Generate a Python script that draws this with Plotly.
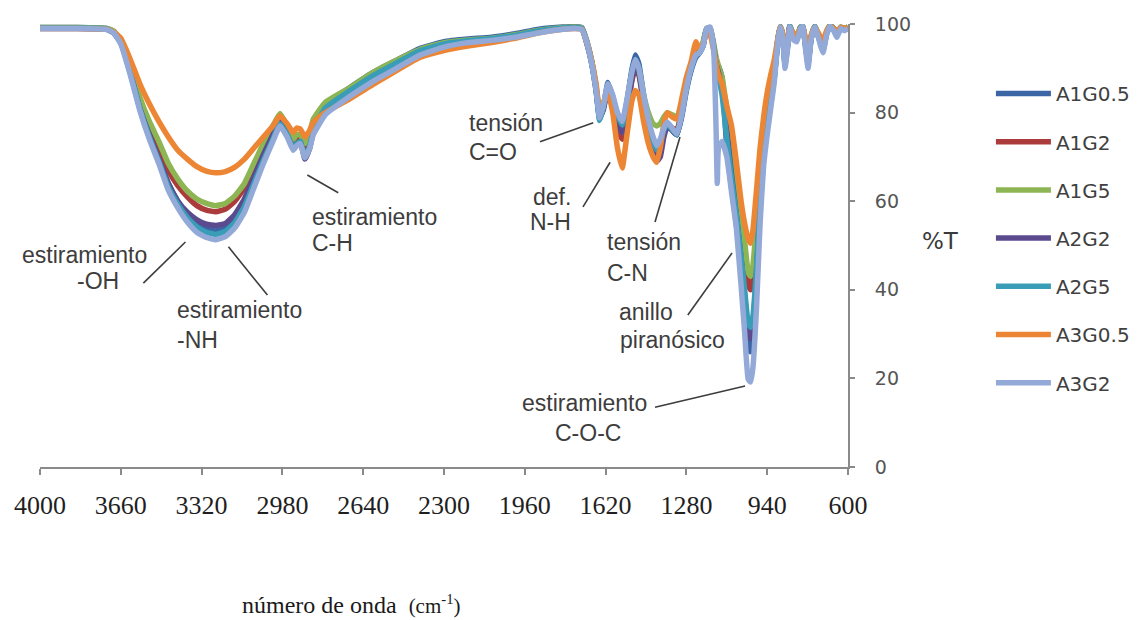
import plotly.graph_objects as go

# Wavenumber grid (cm-1) shared by all spectra
WN = [4000, 3850, 3720, 3690, 3660, 3620, 3580, 3540, 3500, 3460,
      3420, 3380, 3340, 3300, 3260, 3220, 3180, 3140, 3100, 3060,
      3020, 2990, 2960, 2935, 2920, 2905, 2885, 2865, 2850,
      2800, 2700, 2600, 2500, 2400, 2300, 2200, 2100, 2000, 1900, 1800, 1750, 1720,
      1700, 1680, 1660, 1645, 1630, 1610, 1590, 1570, 1550, 1530,
      1510, 1495, 1480, 1460, 1440, 1420, 1405, 1390, 1375, 1360,
      1340, 1320, 1300, 1280, 1260, 1240, 1225, 1210, 1195,
      1180, 1165, 1155, 1150, 1145, 1130, 1110, 1090, 1070, 1050,
      1035, 1020, 1010, 1000, 985, 970, 955, 940, 925, 910, 895, 885,
      875, 865, 855, 845, 830, 815, 800, 790, 780, 768,
      755, 740, 725, 715, 705, 690, 676, 660, 647, 630, 615, 600]

# %T for each sample
A1G0_5 = [99.2, 99.2, 99.0, 98.3, 96.0, 89.5, 81.5, 75.0, 69.5, 64.0,
          60.0, 57.0, 55.0, 53.8, 53.3, 54.0, 56.0, 59.5, 64.5, 69.5,
          74.5, 78.0, 75.5, 72.5, 73.5, 74.0, 70.5, 73.0, 76.5,
          81.8, 85.5, 89.0, 91.8, 94.5, 96.0, 96.6, 97.0, 97.8, 98.8, 99.3, 99.4, 99.2,
          96.3, 92.0, 85.5, 78.5, 81.0, 86.8, 83.5, 79.0, 77.0, 82.5,
          89.5, 93.0, 91.0, 84.0, 77.5, 73.0, 71.0, 72.5, 75.5, 77.0,
          76.0, 75.0, 79.0, 85.0, 89.5, 92.5, 93.5, 95.5, 99.0,
          99.0, 95.0, 92.0, 91.0, 90.5, 88.0, 72.0, 63.0, 55.0, 45.0,
          36.0, 27.0, 26.0, 29.0, 42.0, 58.0, 70.0, 76.5, 82.0, 88.0, 96.5, 99.5,
          97.5, 91.0, 95.0, 99.6, 97.5, 97.0, 99.3, 99.6, 96.0, 91.0,
          97.0, 99.5, 97.5, 96.0, 94.5, 98.0, 99.7, 99.0, 97.5, 99.3, 99.0, 99.3]

A1G2 = [99.1, 99.1, 98.9, 98.2, 96.0, 90.0, 82.5, 77.0, 72.0, 67.0,
        63.5, 61.0, 59.0, 58.0, 57.6, 58.2, 60.0, 63.0, 67.5, 72.0,
        76.0, 78.8, 76.0, 73.0, 74.0, 74.5, 71.5, 73.5, 76.5,
        80.8, 84.3, 87.8, 90.8, 93.6, 95.2, 96.0, 96.5, 97.3, 98.4, 99.0, 99.2, 99.0,
        96.0, 91.8, 85.5, 79.5, 81.0, 85.5, 81.5, 76.5, 74.0, 79.5,
        87.0, 90.0, 88.5, 82.0, 76.0, 72.0, 70.0, 71.5, 75.5, 77.5,
        76.5, 76.0, 80.5, 86.0, 90.5, 94.0, 94.0, 95.5, 98.8,
        99.0, 95.0, 91.5, 90.5, 89.5, 86.5, 79.0, 72.0, 64.0, 55.0,
        48.0, 41.0, 40.0, 42.5, 52.0, 63.0, 72.0, 78.5, 83.5, 89.0, 96.5, 99.3,
        97.5, 92.0, 95.0, 99.4, 97.5, 97.0, 99.2, 99.5, 96.0, 92.0,
        97.0, 99.4, 97.5, 96.0, 94.5, 98.0, 99.6, 99.0, 97.8, 99.2, 98.8, 99.2]

A1G5 = [99.2, 99.2, 99.0, 98.4, 96.3, 90.5, 83.5, 78.0, 73.5, 68.5,
        65.0, 62.3, 60.5, 59.5, 59.0, 59.5, 61.2, 64.0, 68.5, 73.0,
        77.0, 79.8, 77.0, 74.0, 75.0, 75.0, 73.0, 75.5, 78.5,
        82.3, 85.5, 89.0, 91.8, 94.3, 95.8, 96.4, 96.8, 97.6, 98.6, 99.2, 99.3, 99.1,
        96.2, 92.0, 86.0, 80.0, 81.5, 86.0, 82.5, 78.0, 75.5, 81.0,
        88.0, 91.0, 89.5, 84.0, 80.0, 77.5, 77.0, 77.5, 79.0, 80.0,
        79.5, 79.0, 82.0, 87.0, 91.0, 94.5, 94.5, 96.0, 99.0,
        99.2, 95.5, 92.5, 91.5, 90.5, 88.0, 81.0, 74.0, 66.0, 57.5,
        51.0, 44.0, 43.0, 45.5, 55.0, 65.0, 73.5, 79.5, 84.0, 89.5, 96.8, 99.4,
        97.8, 92.5, 95.5, 99.5, 97.8, 97.3, 99.3, 99.6, 96.5, 92.5,
        97.3, 99.5, 97.8, 96.5, 95.0, 98.3, 99.7, 99.0, 98.0, 99.3, 99.0, 99.3]

A2G2 = [99.0, 99.0, 98.8, 98.0, 95.7, 89.0, 81.0, 75.0, 69.5, 64.0,
        60.0, 57.5, 55.8, 54.8, 54.5, 55.0, 57.0, 60.5, 65.5, 70.5,
        75.0, 78.0, 75.0, 72.0, 73.0, 73.5, 69.5, 72.0, 75.5,
        80.0, 83.8, 87.3, 90.3, 93.2, 94.9, 95.8, 96.3, 97.0, 98.2, 98.9, 99.1, 98.9,
        95.8, 91.5, 85.0, 79.0, 80.5, 85.5, 82.0, 77.5, 75.5, 80.5,
        87.5, 90.5, 89.0, 82.5, 75.5, 71.0, 69.0, 70.0, 74.5, 77.0,
        76.0, 75.0, 79.5, 85.5, 90.0, 93.5, 93.5, 95.0, 98.7,
        98.8, 94.5, 91.0, 90.0, 89.0, 85.5, 76.0, 66.0, 57.0, 47.0,
        39.0, 30.0, 29.0, 32.0, 44.0, 59.0, 70.0, 77.0, 82.5, 88.5, 96.3, 99.2,
        97.3, 91.5, 94.8, 99.3, 97.2, 96.8, 99.1, 99.4, 95.8, 91.5,
        96.8, 99.3, 97.3, 95.8, 94.3, 97.8, 99.5, 98.8, 97.6, 99.1, 98.7, 99.1]

A2G5 = [99.1, 99.1, 98.9, 98.1, 95.8, 89.0, 81.0, 74.5, 69.0, 63.2,
        59.3, 56.3, 54.2, 53.0, 52.5, 53.2, 55.2, 58.8, 64.0, 69.2,
        74.0, 77.5, 75.0, 72.0, 73.0, 73.5, 70.0, 72.5, 75.8,
        81.0, 84.8, 88.3, 91.2, 94.0, 95.5, 96.2, 96.7, 97.4, 98.5, 99.1, 99.2, 99.0,
        96.0, 91.5, 85.0, 78.2, 81.0, 86.2, 83.5, 79.5, 77.2, 82.5,
        89.0, 92.0, 90.0, 83.5, 77.5, 73.5, 71.5, 73.0, 76.0, 77.5,
        76.2, 75.0, 79.5, 85.5, 90.0, 93.0, 93.5, 95.0, 98.8,
        99.0, 94.5, 90.5, 89.0, 88.0, 84.0, 74.0, 65.0, 57.0, 47.5,
        40.0, 32.5, 31.5, 34.0, 45.0, 60.0, 70.5, 77.0, 82.5, 88.0, 96.3, 99.3,
        97.2, 91.0, 94.5, 99.4, 97.0, 96.5, 99.1, 99.5, 95.5, 91.0,
        96.8, 99.4, 97.2, 95.5, 94.0, 97.8, 99.6, 98.8, 97.3, 99.1, 98.7, 99.1]

A3G0_5 = [99.0, 99.0, 98.8, 98.2, 96.8, 92.0, 86.5, 82.0, 78.0, 74.5,
          71.5, 69.5, 67.8, 66.8, 66.4, 66.7, 67.7, 69.5, 72.0, 74.5,
          77.0, 79.3, 77.5, 75.5, 76.5, 76.3, 74.5, 76.0, 77.8,
          80.0, 83.0, 86.3, 89.5, 92.5, 94.0, 95.0, 95.8, 96.8, 98.0, 98.8, 99.0, 98.8,
          96.0, 92.0, 86.5, 80.5, 82.0, 84.5, 80.0, 72.0, 67.5, 75.0,
          82.5, 85.0, 84.0, 78.0, 73.0, 70.0, 68.8, 72.0, 77.5, 80.0,
          79.0, 78.5, 83.0, 88.0, 91.5, 96.0, 94.0, 95.5, 98.0,
          97.5, 94.0, 91.0, 89.5, 88.5, 86.5, 81.5, 77.0, 69.0, 60.0,
          55.0, 51.5, 50.5, 53.5, 62.5, 72.0, 79.0, 84.5, 88.5, 92.0, 96.8, 99.3,
          98.0, 93.5, 95.5, 99.0, 98.0, 97.5, 99.0, 99.3, 97.0, 94.0,
          97.5, 99.2, 98.0, 97.0, 96.0, 98.5, 99.5, 99.0, 98.5, 99.2, 99.0, 99.2]

A3G2 = [99.0, 99.0, 98.8, 98.0, 95.5, 88.5, 80.5, 74.0, 68.5, 62.5,
        58.5, 55.3, 53.0, 51.8, 51.3, 52.0, 54.0, 57.5, 63.0, 68.5,
        73.5, 77.0, 74.5, 71.5, 72.5, 73.0, 69.8, 72.0, 75.0,
        79.5, 83.5, 87.0, 90.0, 93.0, 94.8, 95.8, 96.3, 97.0, 98.0, 98.8, 99.0, 98.8,
        96.0, 91.5, 85.0, 78.8, 81.5, 86.5, 84.0, 80.0, 78.0, 83.0,
        89.0, 92.0, 90.0, 84.0, 78.5, 74.5, 72.5, 74.0, 76.5, 77.8,
        76.5, 75.2, 79.5, 85.5, 90.0, 93.0, 93.5, 95.0, 99.0,
        99.3, 94.0, 76.0, 64.0, 72.0, 73.5, 70.0, 62.0, 54.0, 41.0,
        30.5, 19.8, 19.2, 22.5, 36.0, 55.0, 68.0, 75.0, 81.0, 87.0, 96.0, 99.3,
        97.0, 90.0, 94.0, 99.3, 96.5, 96.0, 99.0, 99.5, 95.0, 90.0,
        96.5, 99.3, 97.0, 95.0, 93.5, 97.5, 99.5, 98.5, 97.0, 99.0, 98.5, 99.0]

SAMPLES = ["A1G0.5", "A1G2", "A1G5", "A2G2", "A2G5", "A3G0.5", "A3G2"]
SERIES = [A1G0_5, A1G2, A1G5, A2G2, A2G5, A3G0_5, A3G2]
COLORS = ["#3b65a5", "#ab3c3b", "#8db553", "#5c4a8f", "#3a9db7", "#ec8634", "#93aad9"]

X_TICKS = [4000, 3660, 3320, 2980, 2640, 2300, 1960, 1620, 1280, 940, 600]
Y_TICKS = [0, 20, 40, 60, 80, 100]

for s in SERIES:
    assert len(s) == len(WN), len(s)

fig = go.Figure()
for name, vals, col in zip(SAMPLES, SERIES, COLORS):
    fig.add_trace(go.Scatter(
        x=WN, y=vals, name=name, mode="lines", legendgroup=name,
        line=dict(color=col, width=5.5, shape="spline", smoothing=0.4),
    ))

# band assignments: (text lines, anchor wavenumbers, %T of each line, xanchor)
LABEL_FONT = dict(family="Liberation Sans, Arial, sans-serif", size=23, color="#3d3d3d")
labels = [
    (["estiramiento", "-OH"], [3813, 3754], [47.9, 42.0], "center"),
    (["estiramiento", "-NH"], [3430, 3430], [35.4, 28.7], "left"),
    (["estiramiento", "C-H"], [2862, 2862], [56.4, 50.6], "left"),
    (["tensión", "C=O"], [2202, 2202], [77.7, 71.1], "left"),
    (["def.", "N-H"], [1756, 1756], [60.9, 55.3], "right"),
    (["tensión", "C-N"], [1622, 1622], [50.8, 43.8], "left"),
    (["anillo", "piranósico"], [1571, 1567], [35.0, 28.7], "left"),
    (["estiramiento", "C-O-C"], [1710, 1693], [14.4, 7.7], "center"),
]
for lines, xs, ys, anchor in labels:
    for t, xv, yv in zip(lines, xs, ys):
        fig.add_annotation(x=xv, y=yv, text=t, showarrow=False, xanchor=anchor,
                           yanchor="middle", font=LABEL_FONT)

# leader lines from labels to bands
leaders = [
    (3565, 41.5, 3388, 50.8),
    (3207, 49.7, 3043, 38.8),
    (2875, 65.9, 2745, 61.9),
    (1896, 73.4, 1672, 77.7),
    (1715, 58.7, 1601, 68.8),
    (1412, 55.3, 1307, 74.5),
    (1274, 34.3, 1088, 48.3),
    (1412, 13.5, 1033, 18.3),
]
for x0, y0, x1, y1 in leaders:
    fig.add_shape(type="line", x0=x0, y0=y0, x1=x1, y1=y1, xref="x", yref="y",
                  line=dict(color="#3d3d3d", width=1.6))

# axis titles
fig.add_annotation(
    x=0.385, y=-0.3115, xref="paper", yref="paper", showarrow=False,
    xanchor="center", yanchor="middle",
    text='número de onda&nbsp;&nbsp;<span style="font-size:21px">(cm<sup>-1</sup>)</span>',
    font=dict(family="Liberation Serif, Times New Roman, serif", size=24, color="#1a1a1a"),
)
fig.add_annotation(
    x=1.115, y=0.51, xref="paper", yref="paper", showarrow=False, text="%T",
    xanchor="center", yanchor="middle",
    font=dict(family="DejaVu Sans, sans-serif", size=23, color="#3a3a3a"),
)

fig.update_layout(
    width=1139, height=620,
    margin=dict(l=40, r=291, t=24, b=153),
    plot_bgcolor="white", paper_bgcolor="white",
    showlegend=True,
    legend=dict(
        xref="container", yref="container", x=0.870, y=1 - 74 / 620,
        xanchor="left", yanchor="top", maxheight=560,
        font=dict(family="DejaVu Sans, sans-serif", size=20, color="#404040"),
        itemwidth=55, traceorder="grouped", tracegroupgap=19.2,
        bgcolor="rgba(0,0,0,0)",
    ),
    xaxis=dict(
        range=[4000, 600], tickvals=X_TICKS, ticktext=[str(v) for v in X_TICKS],
        showgrid=False, zeroline=False, showline=True, linecolor="#8a8a8a", linewidth=2,
        ticks="outside", ticklen=6, tickcolor="#8a8a8a", tickwidth=1.5,
        tickfont=dict(family="Liberation Serif, Times New Roman, serif", size=26, color="#1f1f1f"),
        ticklabelstandoff=8,
    ),
    yaxis=dict(
        range=[0, 100], tickvals=Y_TICKS, side="right",
        showgrid=False, zeroline=False, showline=True, linecolor="#8a8a8a", linewidth=2,
        ticks="outside", ticklen=5, tickcolor="#8a8a8a", tickwidth=1.5,
        tickfont=dict(family="DejaVu Sans, sans-serif", size=19, color="#555555"),
        ticklabelstandoff=16,
    ),
)

fig.write_html("out.html")
